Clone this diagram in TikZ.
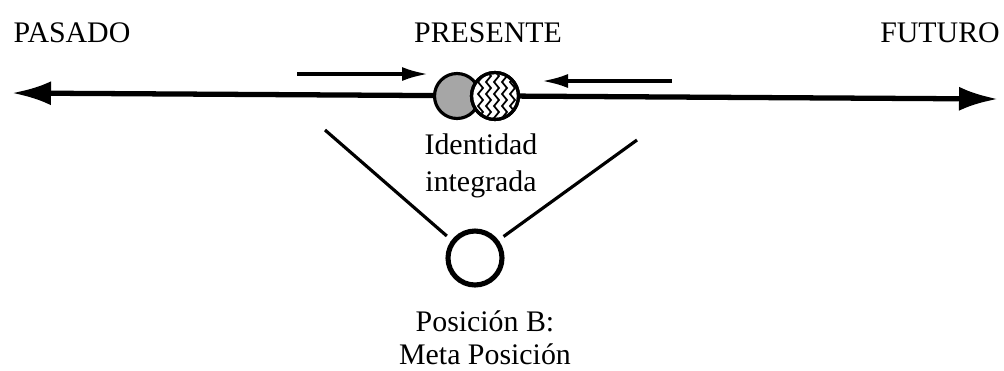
\documentclass[tikz,border=0pt]{standalone}
\usepackage{fontspec}
\setmainfont{Liberation Serif}
\usetikzlibrary{arrows.meta,positioning}

\begin{document}
\begin{tikzpicture}[x=0.02cm,y=-0.02cm,>=Latex,font=\fontsize{17}{21}\selectfont]
  \useasboundingbox (0,0) rectangle (1004,370);
  % time labels
  \node (pasado) at (72,33) {PASADO};
  \node (presente) at (488,33) {PRESENTE};
  \node (futuro) at (940,33) {FUTURO};
  % time axis
  \coordinate (ejeA) at (12,93);
  \coordinate (ejeB) at (998,99);
  \draw[line width=3pt,{Latex[length=0.78cm,width=0.48cm]}-{Latex[length=0.78cm,width=0.48cm]}] (ejeA) -- (ejeB);
  % movement towards the present
  \coordinate (fA) at (297,74);
  \coordinate (fB) at (428,74);
  \coordinate (gA) at (672,81);
  \coordinate (gB) at (542,81);
  \draw[line width=1.9pt,-{Latex[length=0.52cm,width=0.28cm]}] (fA) -- (fB);
  \draw[line width=1.9pt,-{Latex[length=0.52cm,width=0.28cm]}] (gA) -- (gB);
  % integrated identity
  \node[circle,draw,line width=1.8pt,fill=black!35,minimum size=0.9cm] (pos1) at (457,96) {};
  \node[circle,draw,line width=1.8pt,fill=white,minimum size=0.94cm] (pos2) at (495,96) {};
  \begin{scope}
    \clip (495,96) circle (22);
    \foreach \xx in {-17,-9,-1,7,15}
      \draw[line width=1pt] (495+\xx,70) -- ++(5,6) -- ++(-5,6) -- ++(5,6) -- ++(-5,6) -- ++(5,6) -- ++(-5,6) -- ++(5,6) -- ++(-5,6) -- ++(5,6);
  \end{scope}
  \draw[line width=1.8pt] (pos2) circle (23.5);
  \node[align=center] (ident) at (481,166) {Identidad\\integrada};
  % meta position
  \node[circle,draw,line width=2.9pt,minimum size=1.08cm,outer sep=5pt] (meta) at (475,258) {};
  \coordinate (vA) at (325,130);
  \coordinate (vB) at (637,140);
  \draw[line width=1.8pt] (vA) -- (meta.142);
  \draw[line width=1.8pt] (vB) -- (meta.37);
  \node[align=center,font=\fontsize{17}{18.7}\selectfont] (metalbl) at (485,338) {Posición B:\\Meta Posición};
\end{tikzpicture}
\end{document}
